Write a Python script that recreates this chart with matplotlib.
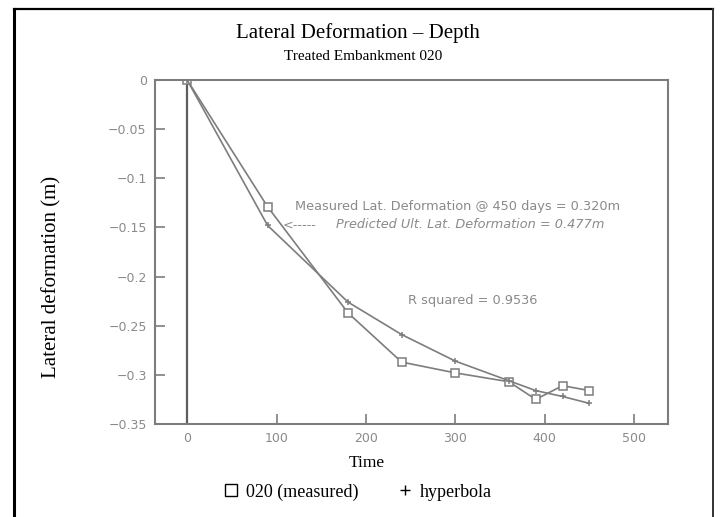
import matplotlib.pyplot as plt
from matplotlib.lines import Line2D

# datos: deformacion lateral medida vs. ajuste hiperbolico
dias = [0, 90, 180, 240, 300, 360, 390, 420, 450]
medido = [0, -0.129, -0.237, -0.287, -0.298, -0.307, -0.325, -0.311, -0.316]
hiperbola = [0, -0.148, -0.226, -0.259, -0.286, -0.306, -0.316, -0.322, -0.329]

xticks = [0, 100, 200, 300, 400, 500]
yticks = [0, -0.05, -0.1, -0.15, -0.2, -0.25, -0.3, -0.35]
ytick_labels = ["0", "\u22120.05", "\u22120.1", "\u22120.15", "\u22120.2",
                "\u22120.25", "\u22120.3", "\u22120.35"]

gris = "#7d7d7d"
gris_txt = "#8a8a8a"
serif = "Liberation Serif"

fig = plt.figure(figsize=(7.23, 5.17), dpi=100)
W, H = 723, 517

# marco exterior
fig.add_artist(Line2D([14 / W, 14 / W], [0, 1 - 8.5 / H], color="black", lw=2.2))
fig.add_artist(Line2D([14 / W, 713 / W], [1 - 8.5 / H, 1 - 8.5 / H], color="black", lw=1.6))
fig.add_artist(Line2D([713 / W, 713 / W], [0, 1 - 8.5 / H], color="#333333", lw=1.4))

# titulos
fig.text(358 / W, 1 - 33 / H, "Lateral Deformation \u2013 Depth", family=serif,
         fontsize=15, ha="center", va="center")
fig.text(363 / W, 1 - 56 / H, "Treated Embankment 020", family=serif,
         fontsize=11, ha="center", va="center")

ax = fig.add_axes([155 / W, 1 - 424 / H, (668 - 155) / W, (424 - 80) / H])
ax.set_xlim(-36, 538)
ax.set_ylim(-0.35, 0)

ax.axvline(0, color="#5e5e5e", lw=1.6)
ax.plot(dias, medido, color=gris, lw=1.2, marker="s", markersize=6,
        markerfacecolor="white", markeredgecolor=gris, markeredgewidth=1.1)
ax.plot(dias, hiperbola, color=gris, lw=1.2, marker="+", markersize=4.5,
        markeredgewidth=1.1)

for s in ax.spines.values():
    s.set_color(gris)
    s.set_linewidth(1.5)

ax.set_xticks(xticks)
ax.set_xticklabels([str(t) for t in xticks])
ax.set_yticks(yticks)
ax.set_yticklabels(ytick_labels)
ax.tick_params(direction="in", length=7, width=1.2, color=gris,
               labelcolor=gris_txt, labelsize=9)
ax.tick_params(axis="y", pad=6)
ax.tick_params(axis="x", pad=6)

ax.text(121, -0.129, "Measured Lat. Deformation @ 450 days = 0.320m",
        fontsize=9.3, color=gris_txt, va="center")
ax.text(107, -0.1475, "<-----", fontsize=9.3, color=gris_txt, va="center")
ax.text(166, -0.1475, "Predicted Ult. Lat. Deformation = 0.477m",
        fontsize=9.3, color=gris_txt, va="center", style="italic")
ax.text(247, -0.224, "R squared = 0.9536", fontsize=9.3, color=gris_txt,
        va="center")

# etiquetas de ejes
fig.text(52 / W, 1 - 277 / H, "Lateral deformation (m)", family=serif,
         fontsize=15, rotation=90, ha="center", va="center")
fig.text(367 / W, 1 - 463 / H, "Time", family=serif, fontsize=12.5,
         ha="center", va="center")

# leyenda inferior
handles = [
    Line2D([], [], ls="none", marker="s", markersize=8, markerfacecolor="white",
           markeredgecolor="black", markeredgewidth=1.0),
    Line2D([], [], ls="none", marker="+", markersize=7, color="black",
           markeredgewidth=1.0),
]
fig.legend(handles, ["020 (measured)", "hyperbola"], loc="center",
           bbox_to_anchor=(358 / W, 1 - 492 / H), ncol=2, frameon=False,
           prop={"family": serif, "size": 13}, handlelength=0.8,
           handletextpad=0.4, columnspacing=2.2)

fig.savefig("out.png", dpi=100)
